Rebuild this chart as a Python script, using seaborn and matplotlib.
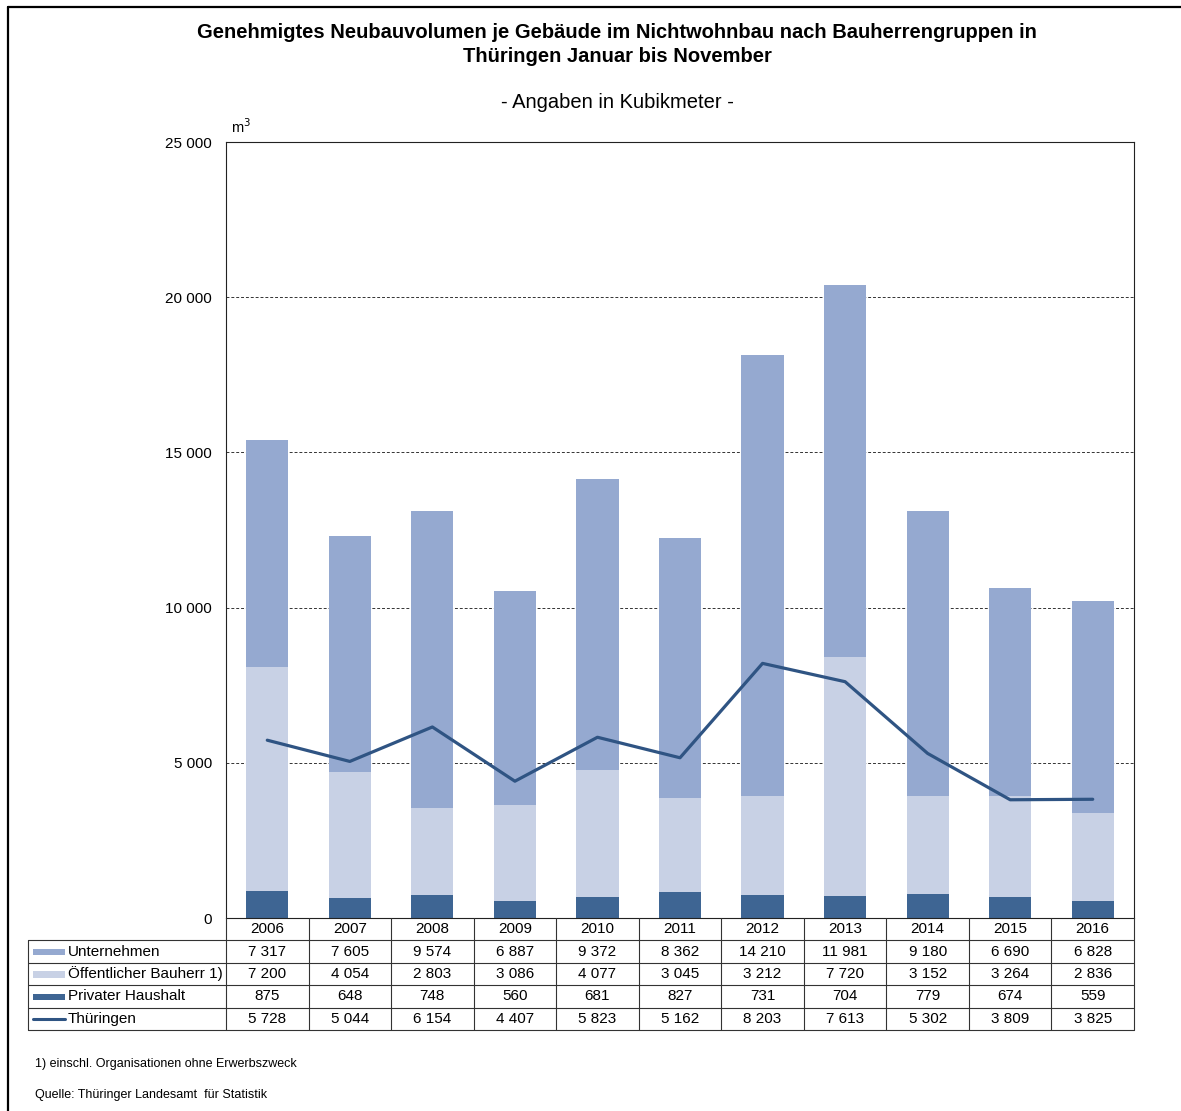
import matplotlib
matplotlib.use("Agg")

import matplotlib.pyplot as plt
import numpy as np
import pandas as pd
import seaborn as sns
from matplotlib.lines import Line2D
from matplotlib.patches import Rectangle

# Daten (Kubikmeter je Gebäude)
years = ["2006", "2007", "2008", "2009", "2010", "2011", "2012", "2013", "2014", "2015", "2016"]
unternehmen = [7317, 7605, 9574, 6887, 9372, 8362, 14210, 11981, 9180, 6690, 6828]
oeffentlich = [7200, 4054, 2803, 3086, 4077, 3045, 3212, 7720, 3152, 3264, 2836]
privat = [875, 648, 748, 560, 681, 827, 731, 704, 779, 674, 559]
thueringen = [5728, 5044, 6154, 4407, 5823, 5162, 8203, 7613, 5302, 3809, 3825]

C_UNT = "#95a9d0"
C_OEF = "#c8d1e5"
C_PRI = "#3e6593"
C_LINE = "#2f5483"

sns.set_style("white")
plt.rcParams["font.family"] = ["Liberation Sans", "DejaVu Sans"]
plt.rcParams["text.color"] = "black"
plt.rcParams["ytick.color"] = "black"

W, H = 1181, 1111
fig = plt.figure(figsize=(W / 100, H / 100), dpi=100)

# Achsen in Pixel-Koordinaten
ax_l, ax_r, ax_t, ax_b = 226, 1134, 142, 918
ax = fig.add_axes([ax_l / W, 1 - ax_b / H, (ax_r - ax_l) / W, (ax_b - ax_t) / H])

df = pd.DataFrame({"Jahr": years, "U": unternehmen, "O": oeffentlich, "P": privat, "T": thueringen})
df["sum_all"] = df["U"] + df["O"] + df["P"]
df["sum_op"] = df["O"] + df["P"]

bw = 0.51
sns.barplot(data=df, x="Jahr", y="sum_all", color=C_UNT, width=bw, saturation=1, linewidth=0, ax=ax)
sns.barplot(data=df, x="Jahr", y="sum_op", color=C_OEF, width=bw, saturation=1, linewidth=0, ax=ax)
sns.barplot(data=df, x="Jahr", y="P", color=C_PRI, width=bw, saturation=1, linewidth=0, ax=ax)
sns.lineplot(x=np.arange(len(years)), y=df["T"], color=C_LINE, linewidth=2.3, ax=ax)

ax.set_xlim(-0.5, len(years) - 0.5)
ax.set_ylim(0, 25000)
ax.set_yticks(np.arange(0, 25001, 5000))
ax.set_yticklabels([f"{v:,}".replace(",", " ") for v in range(0, 25001, 5000)], fontsize=11)
ax.tick_params(axis="y", length=0, pad=10)
ax.set_xticks([])
ax.set_xlabel("")
ax.set_ylabel("")
for y in range(5000, 25000, 5000):
    ax.axhline(y, color="#333333", linestyle=(0, (3, 2)), linewidth=0.7, zorder=0)
for s in ax.spines.values():
    s.set_color("#222222")
    s.set_linewidth(0.8)
ax.text(0.006, 1.008, "m$^3$", transform=ax.transAxes, fontsize=10.5, va="bottom", ha="left")

# Datentabelle unter dem Diagramm
tb_l, tb_b = 28, 1030
unit_px = (ax_r - ax_l) / len(years)
label_units = (ax_l - tb_l) / unit_px
tax = fig.add_axes([tb_l / W, 1 - tb_b / H, (ax_r - tb_l) / W, (tb_b - ax_b) / H])
tax.set_xlim(-0.5 - label_units, len(years) - 0.5)
tax.set_ylim(5, 0)
tax.axis("off")

lc = "#333333"
x0 = -0.5 - label_units
x1 = len(years) - 0.5
for r in range(1, 6):
    tax.plot([x0, x1], [r, r], color=lc, lw=0.8, clip_on=False)
tax.plot([x0, x0], [1, 5], color=lc, lw=0.8, clip_on=False)
for i in range(len(years) + 1):
    tax.plot([i - 0.5, i - 0.5], [0, 5], color=lc, lw=0.8, clip_on=False)

for i, yr in enumerate(years):
    tax.text(i, 0.5, yr, ha="center", va="center", fontsize=11)

rows = [
    ("Unternehmen", unternehmen, C_UNT, "bar"),
    ("Öffentlicher Bauherr 1)", oeffentlich, C_OEF, "bar"),
    ("Privater Haushalt", privat, C_PRI, "bar"),
    ("Thüringen", thueringen, C_LINE, "line"),
]
key_w = 32 / unit_px
for r, (name, vals, col, kind) in enumerate(rows, start=1):
    kx = x0 + 5 / unit_px
    if kind == "bar":
        tax.add_patch(Rectangle((kx, r + 0.38), key_w, 0.28, facecolor=col, edgecolor="none", clip_on=False))
    else:
        tax.plot([kx, kx + key_w], [r + 0.5, r + 0.5], color=col, lw=2.2, clip_on=False)
    tax.text(kx + key_w + 3 / unit_px, r + 0.5, name, ha="left", va="center", fontsize=11)
    for i, v in enumerate(vals):
        tax.text(i, r + 0.5, f"{v:,}".replace(",", " "), ha="center", va="center", fontsize=11)

# Titel
fig.text(617 / W, 1 - 33 / H, "Genehmigtes Neubauvolumen je Gebäude im Nichtwohnbau nach Bauherrengruppen in",
         ha="center", va="center", fontsize=14.5, fontweight="bold")
fig.text(617 / W, 1 - 56 / H, "Thüringen Januar bis November",
         ha="center", va="center", fontsize=14.5, fontweight="bold")
fig.text(617 / W, 1 - 103 / H, "- Angaben in Kubikmeter -", ha="center", va="center", fontsize=14.5)

# Fußnoten
fig.text(35 / W, 1 - 1064 / H, "1) einschl. Organisationen ohne Erwerbszweck", ha="left", va="center", fontsize=9)
fig.text(35 / W, 1 - 1095 / H, "Quelle: Thüringer Landesamt  für Statistik", ha="left", va="center", fontsize=9)

# Rahmen oben und links
fig.add_artist(Line2D([8 / W, 1], [1 - 7 / H, 1 - 7 / H], color="black", lw=1.6))
fig.add_artist(Line2D([8 / W, 8 / W], [0, 1 - 7 / H], color="black", lw=1.6))

fig.savefig("out.png", dpi=100)
